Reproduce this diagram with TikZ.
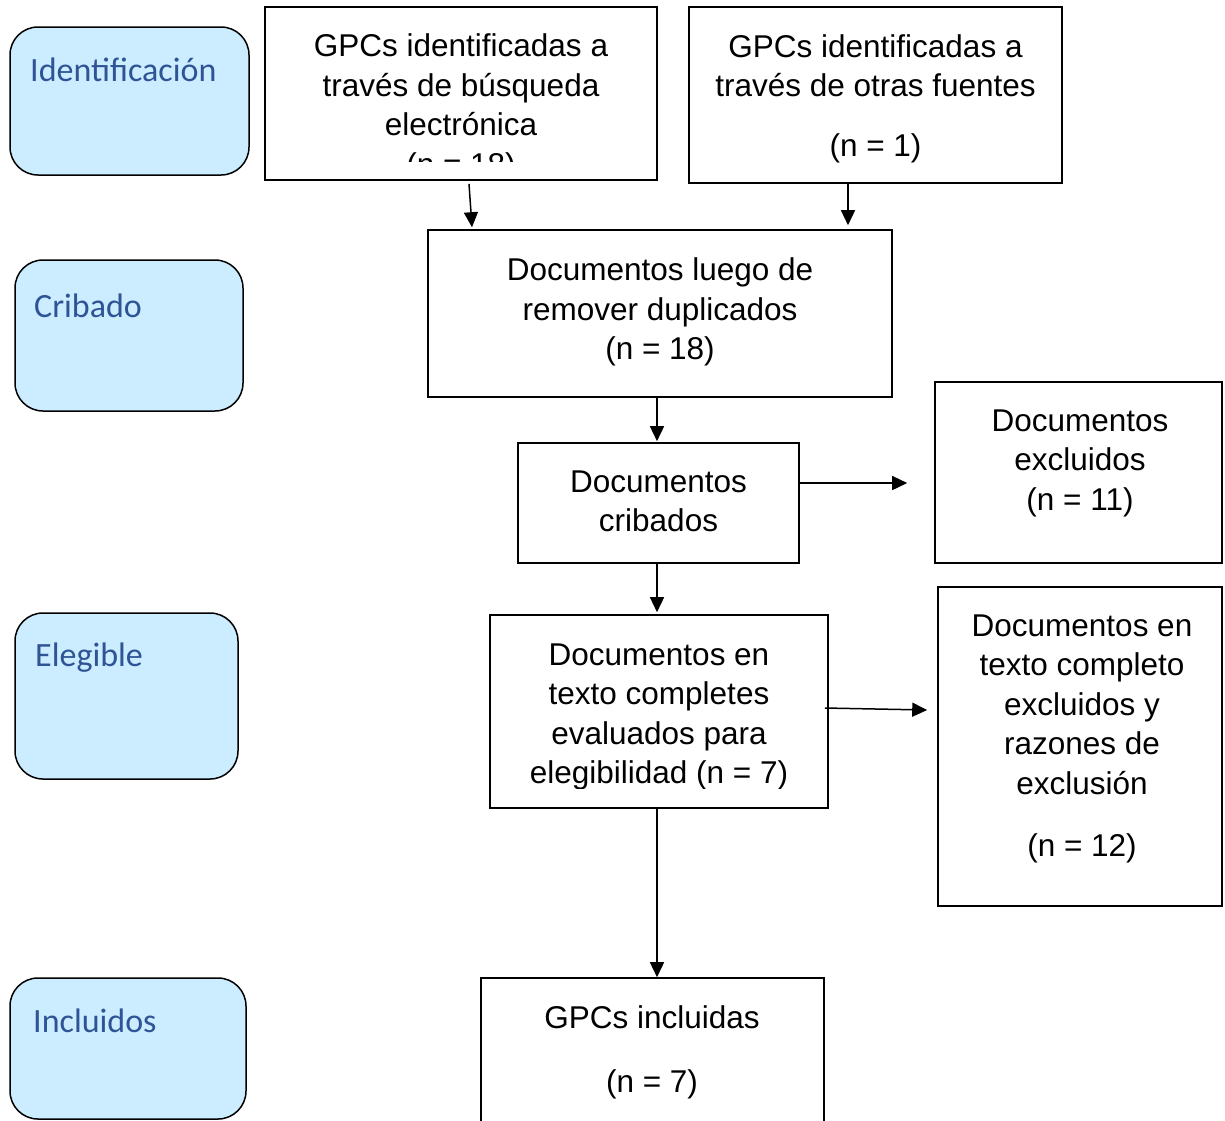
\documentclass[tikz,border=0pt]{standalone}
\usepackage{fontspec}
\setmainfont{Liberation Sans}
\newfontfamily\labelfont{Carlito}
\usetikzlibrary{arrows.meta,calc}
\definecolor{stagefill}{RGB}{204,236,255}
\definecolor{stagetext}{RGB}{46,84,150}
\tikzset{
  stagebox/.style={draw=black,line width=1.5pt,fill=stagefill,rounded corners=28pt,inner sep=0pt},
  stagelabel/.style={anchor=west,inner sep=0pt,text=stagetext,font=\labelfont\fontsize{34}{40}\selectfont},
  flowbox/.style={draw=black,line width=1.6pt,fill=white,inner sep=0pt},
  flowtext/.style={align=center,inner sep=0pt,font=\fontsize{31.5}{39.5}\selectfont},
  arr/.style={line width=1.5pt,-{Triangle[length=15pt,width=14pt]}}
}
\begin{document}
\begin{tikzpicture}[x=1pt,y=-1pt]
\useasboundingbox (0,0) rectangle (1225,1120);
% stage boxes
\node[stagebox,minimum width=239pt,minimum height=148pt] (s1) at (129.5,101) {};
\node[stagebox,minimum width=228pt,minimum height=151pt] (s2) at (129,335.5) {};
\node[stagebox,minimum width=223pt,minimum height=166pt] (s3) at (126.5,696) {};
\node[stagebox,minimum width=236pt,minimum height=141pt] (s4) at (128,1048.5) {};
\node[stagelabel] (l1) at (30,70) {Identificación};
\node[stagelabel] (l2) at (34,306) {Cribado};
\node[stagelabel] (l3) at (35,658) {Elegible};
\node[stagelabel] (l4) at (33,1021) {Incluidos};
% flow boxes
\node[flowbox,minimum width=392pt,minimum height=173pt] (b1) at (461,93.5) {};
\node[flowbox,minimum width=373pt,minimum height=176pt] (b2) at (875.5,95) {};
\node[flowbox,minimum width=464pt,minimum height=167pt] (b3) at (660,313.5) {};
\node[flowbox,minimum width=281pt,minimum height=120pt] (b4) at (658.5,503) {};
\node[flowbox,minimum width=287pt,minimum height=181pt] (b5) at (1078.5,472.5) {};
\node[flowbox,minimum width=338pt,minimum height=193pt] (b6) at (659,711.5) {};
\node[flowbox,minimum width=284pt,minimum height=319pt] (b7) at (1080,746.5) {};
\node[flowbox,minimum width=343pt,minimum height=150pt] (b8) at (652.5,1053) {};
% texts
\begin{scope}
\clip (265,0) rectangle (657,161);
\node[flowtext] (t1) at (461,108) {GPCs identificadas a\\través de búsqueda\\electrónica\\(n = 18)};
\end{scope}
\node[flowtext] (t2) at (875.5,99) {GPCs identificadas a\\través de otras fuentes\\[20.5pt](n = 1)};
\node[flowtext] (t3) at (660,312) {Documentos luego de\\remover duplicados\\(n = 18)};
\node[flowtext] (t4) at (658.5,501.5) {Documentos\\cribados};
\node[flowtext] (t5) at (1080,463) {Documentos\\excluidos\\(n = 11)};
\begin{scope}
\clip (490,615) rectangle (828,788);
\node[flowtext] (t6) at (659,717) {Documentos en\\texto completes\\evaluados para\\elegibilidad (n = 7)};
\end{scope}
\node[flowtext] (t7) at (1082,738.5) {Documentos en\\texto completo\\excluidos y\\razones de\\exclusión\\[22.5pt](n = 12)};
\node[flowtext] (t8) at (652,1052) {GPCs incluidas\\[24.5pt](n = 7)};
% arrows
\draw[arr] ($(b1.south)+(8,3)$) -- ($(b3.north)+(-188,-2)$);
\draw[arr] ($(b2.south)+(-27.5,0)$) -- ($(b3.north)+(188,-4)$);
\draw[arr] ($(b3.south)+(-3,0)$) -- ($(b4.north)+(-1.5,-1)$);
\draw[arr] ($(b4.east)+(0,-20)$) -- ($(b5.west)+(-27,10.5)$);
\draw[arr] ($(b4.south)+(-1.5,0)$) -- ($(b6.north)+(-2,-2)$);
\draw[arr] ($(b6.east)+(-4,-3.5)$) -- ($(b7.west)+(-10,-36.5)$);
\draw[arr] ($(b6.south)+(-2,0)$) -- ($(b8.north)+(4.5,0)$);
\end{tikzpicture}
\end{document}
